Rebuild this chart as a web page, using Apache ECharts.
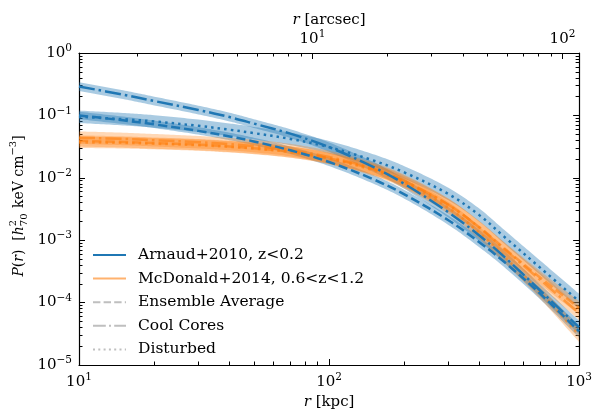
<!DOCTYPE html>
<html><head><meta charset="utf-8">
<script src="https://cdn.jsdelivr.net/npm/echarts@6/dist/echarts.min.js"></script>
<style>html,body{margin:0;padding:0;background:#fff}#c{width:595px;height:415px}</style>
</head><body><div id="c"></div>
<script>
// ---------------- data ----------------
const radiiKpc = [10, 15, 20, 30, 40, 50, 70, 100, 150, 200, 300, 400, 500, 700, 1000];

const arnaudEnsemble  = [0.100, 0.0833, 0.0719, 0.0565, 0.0460, 0.0383, 0.0276, 0.0179, 0.0095, 0.00544, 0.00209, 0.00092, 0.000455, 0.000138, 0.0000345];
const arnaudCoolCore  = [0.290, 0.215, 0.170, 0.122, 0.094, 0.074, 0.051, 0.031, 0.0150, 0.0080, 0.0028, 0.00118, 0.00055, 0.000155, 0.0000400];
const arnaudDisturbed = [0.095, 0.087, 0.080, 0.068, 0.059, 0.052, 0.042, 0.031, 0.0190, 0.0122, 0.0055, 0.0025, 0.00115, 0.00036, 0.000105];

const mcdEnsemble  = [0.039, 0.0375, 0.036, 0.034, 0.0318, 0.0298, 0.026, 0.0205, 0.0137, 0.0088, 0.0037, 0.0016, 0.00075, 0.00025, 0.000082];
const mcdCoolCore  = [0.044, 0.042, 0.040, 0.0372, 0.0347, 0.0323, 0.0278, 0.0215, 0.0140, 0.0089, 0.0037, 0.00158, 0.00073, 0.00023, 0.000068];
const mcdDisturbed = [0.037, 0.0363, 0.0352, 0.0333, 0.0313, 0.0294, 0.0258, 0.0203, 0.0132, 0.0083, 0.0033, 0.0013, 0.00056, 0.000145, 0.000030];

// half-width of the shaded bands, in dex
const arnaudEnsembleBand  = [0.06, 0.06, 0.06, 0.06, 0.06, 0.06, 0.06, 0.065, 0.07, 0.07, 0.075, 0.08, 0.085, 0.09, 0.10];
const arnaudCoolCoreBand  = [0.07, 0.07, 0.07, 0.07, 0.07, 0.07, 0.07, 0.075, 0.08, 0.08, 0.085, 0.09, 0.095, 0.10, 0.11];
const arnaudDisturbedBand = [0.10, 0.10, 0.10, 0.10, 0.10, 0.10, 0.10, 0.10, 0.10, 0.10, 0.10, 0.105, 0.11, 0.115, 0.12];
const mcdEnsembleBand  = [0.09, 0.09, 0.09, 0.09, 0.09, 0.09, 0.09, 0.09, 0.09, 0.09, 0.095, 0.10, 0.10, 0.105, 0.11];
const mcdCoolCoreBand  = [0.10, 0.10, 0.10, 0.10, 0.10, 0.10, 0.10, 0.10, 0.10, 0.10, 0.10, 0.10, 0.105, 0.11, 0.11];
const mcdDisturbedBand = [0.09, 0.09, 0.09, 0.09, 0.09, 0.09, 0.09, 0.09, 0.09, 0.09, 0.095, 0.10, 0.10, 0.105, 0.11];

const legendNames = ['Arnaud+2010, z<0.2', 'McDonald+2014, 0.6<z<1.2', 'Ensemble Average', 'Cool Cores', 'Disturbed'];

const kpcPerArcsec = 8.58;
const xMajorTicks = [10, 100, 1000];
const xMinorTicks = [20, 30, 40, 50, 60, 70, 80, 90, 200, 300, 400, 500, 600, 700, 800, 900];
const topMajorTicks = [10, 100];
const topMinorTicks = [2, 3, 4, 5, 6, 7, 8, 9, 20, 30, 40, 50, 60, 70, 80, 90];
const yMajorTicks = [1e-5, 1e-4, 1e-3, 1e-2, 1e-1, 1];
const yMinorTicks = [];
for (let e = -5; e < 0; e++) for (let k = 2; k <= 9; k++) yMinorTicks.push(+(k * Math.pow(10, e)).toPrecision(3));

// ---------------- styling ----------------
const BLUE = '#1f77b4', ORANGE = '#ff7f0e';
const SERIF = 'DejaVu Serif';
const LW = 2.5;
const SMOOTH = 0.35;
const DASHED = [3.7 * LW, 1.6 * LW], DASHDOT = [6.4 * LW, 1.6 * LW, 1 * LW, 1.6 * LW], DOTTED = [1 * LW, 1.65 * LW];

function sciLabel(v) {
  const e = Math.round(Math.log10(v));
  return '{b|10}{s|' + (e < 0 ? '\u2212' + (-e) : e) + '}';
}
const richTick = {
  b: { fontFamily: SERIF, fontSize: 15, color: '#000' },
  s: { fontFamily: SERIF, fontSize: 10.5, color: '#000', padding: [0, 0, 9, 0] }
};

// pixel-space bezier smoothing of a polyline (same idea as the line series' smoothing)
function smoothPixels(pts, s) {
  const n = pts.length, cps = [];
  for (let i = 0; i < n; i++) {
    const p = pts[i], pr = pts[Math.max(i - 1, 0)], nx = pts[Math.min(i + 1, n - 1)];
    const vx = nx[0] - pr[0], vy = nx[1] - pr[1];
    const d0 = Math.hypot(p[0] - pr[0], p[1] - pr[1]), d1 = Math.hypot(nx[0] - p[0], nx[1] - p[1]);
    const r = (d0 + d1) ? d0 / (d0 + d1) : 0.5;
    cps.push([[p[0] - vx * s * r, p[1] - vy * s * r], [p[0] + vx * s * (1 - r), p[1] + vy * s * (1 - r)]]);
  }
  const out = [pts[0]];
  for (let i = 0; i < n - 1; i++) {
    const p0 = pts[i], c1 = cps[i][1], c2 = cps[i + 1][0], p1 = pts[i + 1];
    for (let k = 1; k <= 16; k++) {
      const t = k / 16, u = 1 - t;
      out.push([u * u * u * p0[0] + 3 * u * u * t * c1[0] + 3 * u * t * t * c2[0] + t * t * t * p1[0],
                u * u * u * p0[1] + 3 * u * u * t * c1[1] + 3 * u * t * t * c2[1] + t * t * t * p1[1]]);
    }
  }
  return out;
}

function bandSeries(vals, widths, color, opacity) {
  return {
    type: 'custom', xAxisIndex: 0, yAxisIndex: 0, z: 1, silent: true, clip: true,
    data: [[radiiKpc[0], vals[0]]],
    renderItem: function (params, api) {
      const up = smoothPixels(radiiKpc.map((r, i) => api.coord([r, vals[i] * Math.pow(10, widths[i])])), SMOOTH);
      const lo = smoothPixels(radiiKpc.map((r, i) => api.coord([r, vals[i] / Math.pow(10, widths[i])])), SMOOTH).reverse();
      return { type: 'polygon', shape: { points: up.concat(lo) }, style: { fill: color, opacity: opacity } };
    }
  };
}
function lineSeries(vals, color, opacity, dash) {
  return {
    type: 'line', xAxisIndex: 0, yAxisIndex: 0, z: 3, silent: true, symbol: 'none',
    smooth: SMOOTH, data: radiiKpc.map((r, i) => [r, vals[i]]),
    lineStyle: { color: color, opacity: opacity, width: LW, type: dash, cap: 'butt' }
  };
}
function legendSeries(name, color, dash) {
  return { type: 'line', name: name, xAxisIndex: 0, yAxisIndex: 0, symbol: 'none', data: [],
           itemStyle: { color: color, opacity: 0 }, lineStyle: { color: color, width: 2, type: dash } };
}

const series = [
  bandSeries(arnaudEnsemble, arnaudEnsembleBand, BLUE, 0.38),
  bandSeries(arnaudCoolCore, arnaudCoolCoreBand, BLUE, 0.38),
  bandSeries(arnaudDisturbed, arnaudDisturbedBand, BLUE, 0.38),
  bandSeries(mcdEnsemble, mcdEnsembleBand, ORANGE, 0.3),
  bandSeries(mcdCoolCore, mcdCoolCoreBand, ORANGE, 0.3),
  bandSeries(mcdDisturbed, mcdDisturbedBand, ORANGE, 0.3),
  lineSeries(mcdEnsemble, ORANGE, 0.6, DASHED),
  lineSeries(mcdCoolCore, ORANGE, 0.6, DASHDOT),
  lineSeries(mcdDisturbed, ORANGE, 0.6, DOTTED),
  lineSeries(arnaudEnsemble, BLUE, 1, DASHED),
  lineSeries(arnaudCoolCore, BLUE, 1, DASHDOT),
  lineSeries(arnaudDisturbed, BLUE, 1, DOTTED),
  legendSeries(legendNames[0], BLUE, 'solid'),
  legendSeries(legendNames[1], '#ffb26e', 'solid'),
  legendSeries(legendNames[2], '#bfbfbf', [7.4, 3.2]),
  legendSeries(legendNames[3], '#bfbfbf', [12.8, 3.2, 2, 3.2]),
  legendSeries(legendNames[4], '#bfbfbf', [2, 3.3])
];

function logAxisBase(extra) {
  return Object.assign({
    type: 'log', logBase: 10, gridIndex: 0, splitLine: { show: false },
    axisLine: { show: false }, axisLabel: { show: false },
    axisTick: { show: false }
  }, extra);
}

const AX = { lineStyle: { color: '#000', width: 1.2 } };
const nameStyle = { fontFamily: SERIF, fontSize: 15, color: '#000',
  rich: { i: { fontFamily: SERIF, fontStyle: 'italic', fontSize: 15, color: '#000' } } };
const xAxis = [
  logAxisBase({ position: 'bottom', min: 10, max: 1000,
    axisLine: Object.assign({ show: true, onZero: false }, AX),
    axisTick: { show: true, inside: true, length: 6, lineStyle: { color: '#000' }, customValues: xMajorTicks },
    axisLabel: { show: true, margin: 7, customValues: xMajorTicks, formatter: sciLabel, rich: richTick },
    name: '{i|r} [kpc]', nameLocation: 'middle', nameGap: 30, nameMoveOverlap: false, nameTextStyle: nameStyle }),
  logAxisBase({ position: 'bottom', min: 10, max: 1000,
    axisTick: { show: true, inside: true, length: 3.5, lineStyle: { color: '#000' }, customValues: xMinorTicks } }),
  logAxisBase({ position: 'top', min: 10 / kpcPerArcsec, max: 1000 / kpcPerArcsec,
    axisLine: Object.assign({ show: true, onZero: false }, AX),
    axisTick: { show: true, inside: true, length: 6, lineStyle: { color: '#000' }, customValues: topMajorTicks },
    axisLabel: { show: true, margin: 4, customValues: topMajorTicks, formatter: sciLabel, rich: richTick },
    name: '{i|r} [arcsec]', nameLocation: 'middle', nameGap: 25, nameMoveOverlap: false, nameTextStyle: nameStyle }),
  logAxisBase({ position: 'top', min: 10 / kpcPerArcsec, max: 1000 / kpcPerArcsec,
    axisTick: { show: true, inside: true, length: 3.5, lineStyle: { color: '#000' }, customValues: topMinorTicks } })
];
const yAxis = [
  logAxisBase({ position: 'left', min: 1e-5, max: 1,
    axisLine: Object.assign({ show: true, onZero: false }, AX),
    axisTick: { show: true, inside: true, length: 6, lineStyle: { color: '#000' }, customValues: yMajorTicks },
    axisLabel: { show: true, margin: 7, customValues: yMajorTicks, formatter: sciLabel, rich: richTick } }),
  logAxisBase({ position: 'left', min: 1e-5, max: 1,
    axisTick: { show: true, inside: true, length: 3.5, lineStyle: { color: '#000' }, customValues: yMinorTicks } }),
  logAxisBase({ position: 'right', min: 1e-5, max: 1,
    axisLine: Object.assign({ show: true, onZero: false }, AX),
    axisTick: { show: true, inside: true, length: 6, lineStyle: { color: '#000' }, customValues: yMajorTicks } }),
  logAxisBase({ position: 'right', min: 1e-5, max: 1,
    axisTick: { show: true, inside: true, length: 3.5, lineStyle: { color: '#000' }, customValues: yMinorTicks } })
];

// y-axis title (rotated), laid out from measured text widths
function buildYTitle() {
  const ctx = document.createElement('canvas').getContext('2d');
  const children = [];
  const FS = 14, SS = 10;
  let x = 0;
  function add(t, size, italic, dy, advance) {
    ctx.font = (italic ? 'italic ' : '') + size + 'px "' + SERIF + '"';
    const w = ctx.measureText(t).width;
    children.push({ type: 'text', x: x, y: dy, silent: true,
      style: { text: t, fontFamily: SERIF, fontSize: size, fontStyle: italic ? 'italic' : 'normal',
               fill: '#000', align: 'left', verticalAlign: 'middle' } });
    if (advance !== false) x += w;
    return w;
  }
  add('P', FS, true, 0); add('(', FS, false, 0); add('r', FS, true, 0); add(')', FS, false, 0);
  add('  [', FS, false, 0); add('h', FS, true, 0);
  const w1 = add('2', SS, false, -6, false);
  const w2 = add('70', SS, false, 5, false);
  x += Math.max(w1, w2) + 1;
  add(' keV cm', FS, false, 0); add('\u22123', SS, false, -6); add(']', FS, false, 0);
  const total = x;
  children.forEach(c => { c.x -= total / 2; });
  return { type: 'group', x: 19, y: 206, rotation: Math.PI / 2, children: children };
}

const chart = echarts.init(document.getElementById('c'), null, { renderer: 'canvas' });
chart.setOption({
  animation: false,
  backgroundColor: '#fff',
  grid: { left: 79, right: 14, top: 53, bottom: 43, containLabel: false },
  xAxis: xAxis,
  yAxis: yAxis,
  legend: {
    data: legendNames, orient: 'vertical', left: 92, top: 246, padding: 0,
    itemWidth: 33, itemHeight: 14, itemGap: 5.6, selectedMode: false,
    itemStyle: { opacity: 0 },
    textStyle: { fontFamily: SERIF, fontSize: 15.5, color: '#000', lineHeight: 18, padding: [0, 0, 0, 7] }
  },
  graphic: [buildYTitle()],
  series: series
});
</script>
</body></html>
